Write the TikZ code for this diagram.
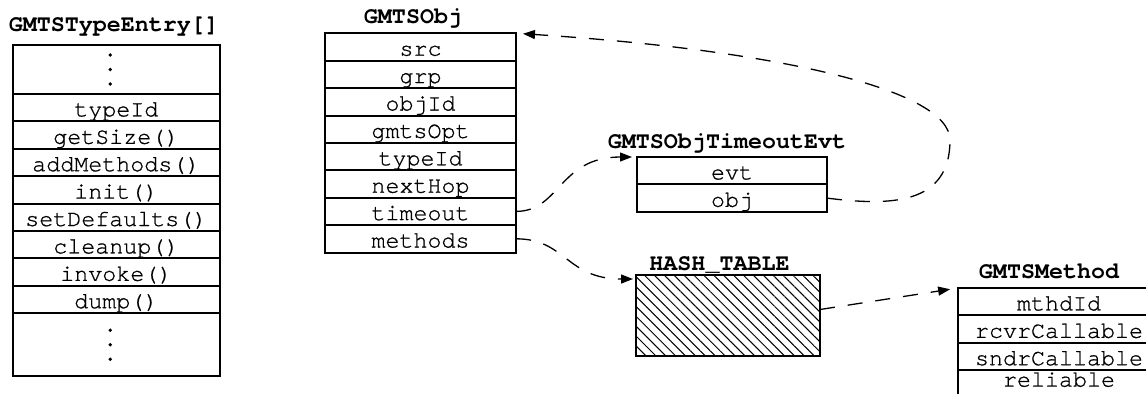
\documentclass[tikz,border=0pt]{standalone}
\usepackage{fontspec}
\usetikzlibrary{positioning,arrows.meta,patterns.meta}

\newfontfamily\cursorfont{texgyrecursor}[Extension=.otf, UprightFont=*-regular, BoldFont=*-bold,
  UprightFeatures={FakeBold=0.8}]

\tikzset{
  fieldbox/.style={draw, line width=1pt, minimum width=#1, inner sep=0pt, outer sep=0pt,
    text height=11.2pt, text depth=2.5pt, font=\cursorfont\fontsize{11.67}{14}\selectfont},
  tname/.style={font=\cursorfont\bfseries\fontsize{11.67}{14}\selectfont, inner sep=0pt, anchor=base},
  hashbox/.style={draw, line width=1pt, minimum width=92pt, minimum height=40.5pt, inner sep=0pt,
    outer sep=0pt, pattern={Lines[angle=-45, distance=3.5pt, line width=0.5pt]}},
  ptr/.style={line width=0.65pt, dash pattern=on 7.5pt off 6.5pt, -{Triangle[length=6pt,width=4.5pt]}}
}

\begin{document}
\begin{tikzpicture}[x=0.5pt, y=-0.5pt]
  \useasboundingbox (0,0) rectangle (1146,393);
  \clip (0,0) rectangle (1146,393);

  % type entry table
  \node[fieldbox=103.7pt, anchor=north, text height=22pt] (te0) at (116.3,45) {};
  \foreach \fld [count=\i, remember=\i as \j (initially 0)] in
      {typeId, getSize(), addMethods(), init(), setDefaults(), cleanup(), invoke(), dump()}
    \node[fieldbox=103.7pt, below=0pt of te\j] (te\i) {\fld};
  \node[fieldbox=103.7pt, below=0pt of te8, text height=29pt] (te9) {};
  \foreach \k in {-1,0,1} {
    \fill ([xshift=-3pt, yshift=\k*7.25pt]te0.center) circle (0.95pt);
    \fill ([xshift=-3pt, yshift=\k*7.25pt]te9.center) circle (0.95pt);
  }
  \node[tname] (teT) at ([xshift=-1.25pt, yshift=7pt]te0.north) {GMTSTypeEntry[]};

  % object
  \node[fieldbox=95.5pt, anchor=north] (ob1) at (420.5,33.3) {src};
  \foreach \fld [count=\i from 2, remember=\i as \j (initially 1)] in
      {grp, objId, gmtsOpt, typeId, nextHop, timeout, methods}
    \node[fieldbox=95.5pt, below=0pt of ob\j] (ob\i) {\fld};
  \node[tname] (obT) at ([xshift=-3.75pt, yshift=4.7pt]ob1.north) {GMTSObj};

  % timeout event
  \node[fieldbox=95pt, anchor=north] (ev1) at (732,157) {evt};
  \node[fieldbox=95pt, below=0pt of ev1] (ev2) {obj};
  \node[tname] (evT) at ([xshift=-2.5pt, yshift=4.5pt]ev1.north) {GMTSObjTimeoutEvt};

  % hash table
  \node[hashbox, anchor=north] (hash) at (728,275) {};
  \node[tname] (hashT) at ([xshift=-4.25pt, yshift=2.5pt]hash.north) {HASH\_TABLE};

  % method
  \node[fieldbox=101pt, anchor=north] (mt1) at (1059,288) {mthdId};
  \node[fieldbox=101pt, below=0pt of mt1] (mt2) {rcvrCallable};
  \node[fieldbox=101pt, below=0pt of mt2] (mt3) {sndrCallable};
  \node[fieldbox=101pt, below=0pt of mt3, text height=8.2pt, text depth=5.5pt] (mt4) {reliable};
  \node[tname] (mtT) at ([xshift=-5pt, yshift=5pt]mt1.north) {GMTSMethod};

  \draw[ptr, shorten >=2.5pt] (ob7.east) .. controls +(44,0) and +(-78,0) .. (ev1.north west);
  \draw[ptr, shorten >=1.5pt] (ob8.east) .. controls +(50,0) and +(-70,0) .. ([yshift=-2pt]hash.north west);
  \draw[ptr, shorten >=3.5pt] (ev2.east) .. controls +(63,8) and +(0,65) .. ++(123,-58)
    .. controls +(0,-50) and +(264,17) .. (ob1.north east);
  \draw[ptr, shorten >=4pt] ([yshift=3pt]hash.east) -- (mt1.north west);
\end{tikzpicture}
\end{document}
